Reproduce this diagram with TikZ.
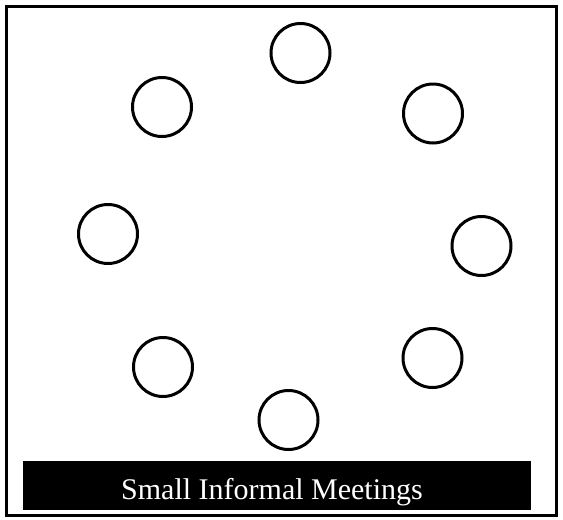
\documentclass[tikz,border=0pt]{standalone}
\usepackage{fontspec}
\setmainfont{Liberation Serif}
\begin{document}
\begin{tikzpicture}[x=1pt,y=-1pt,
  seat/.style={draw=black,line width=3pt,circle,minimum size=59pt,inner sep=0pt},
  frame/.style={draw=black,line width=3pt},
  bar/.style={fill=black},
  title/.style={text=white,font=\fontsize{30}{32}\selectfont,anchor=base,inner sep=0pt}]
\useasboundingbox (0,0) rectangle (563,520);
\draw[frame] (6.5,6.5) rectangle (556.5,515.5);
\node[seat] (s1) at (300.5,53) {};
\node[seat] (s2) at (162,107) {};
\node[seat] (s3) at (433,113.5) {};
\node[seat] (s4) at (108,234) {};
\node[seat] (s5) at (481.5,246) {};
\node[seat] (s6) at (163,367) {};
\node[seat] (s7) at (432.5,358) {};
\node[seat] (s8) at (288.5,420) {};
\fill[bar] (23,461) rectangle (531,510);
\node[title] (t) at (272,499) {Small Informal Meetings};
\end{tikzpicture}
\end{document}
